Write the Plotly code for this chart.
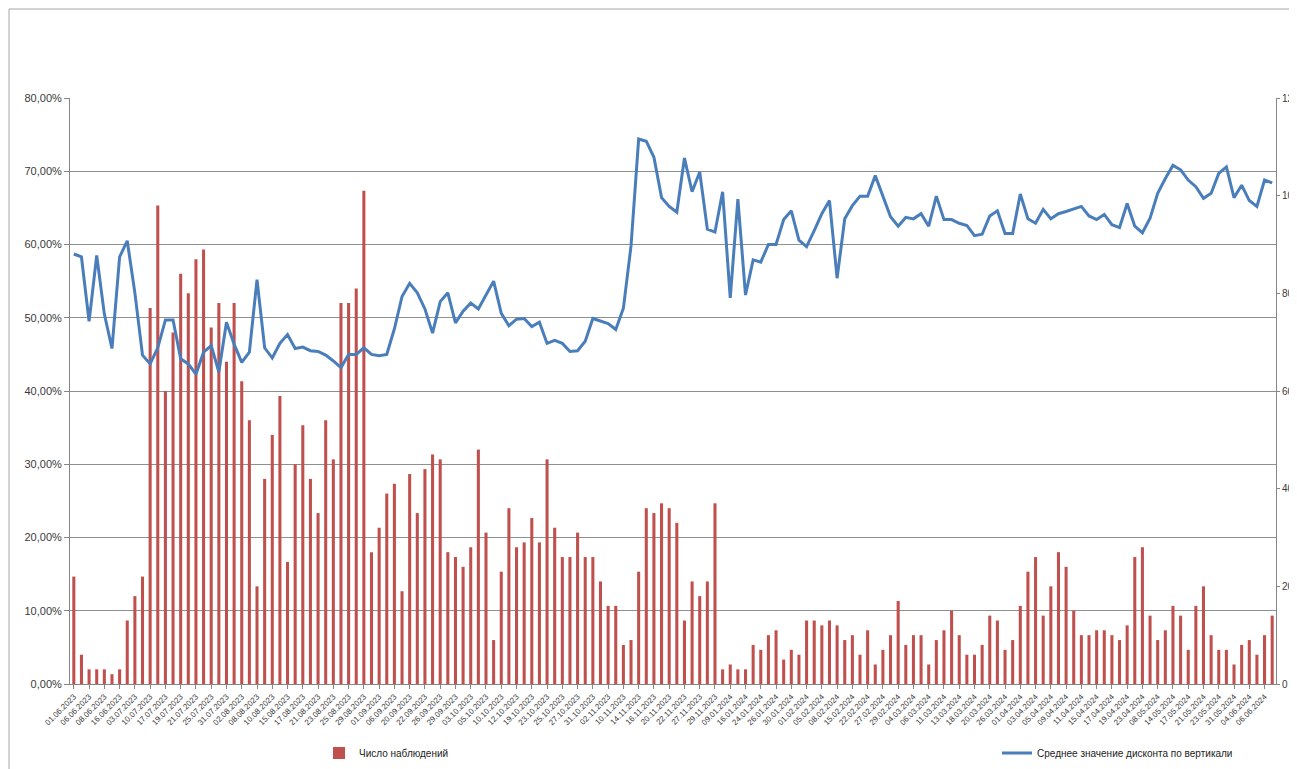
import plotly.graph_objects as go

dates = [
    "01.06.2023", "02.06.2023", "06.06.2023", "07.06.2023", "08.06.2023", "14.06.2023",
    "16.06.2023", "23.06.2023", "03.07.2023", "05.07.2023", "10.07.2023", "12.07.2023",
    "17.07.2023", "18.07.2023", "19.07.2023", "20.07.2023", "21.07.2023", "24.07.2023",
    "25.07.2023", "27.07.2023", "31.07.2023", "01.08.2023", "02.08.2023", "04.08.2023",
    "08.08.2023", "09.08.2023", "10.08.2023", "14.08.2023", "15.08.2023", "16.08.2023",
    "17.08.2023", "18.08.2023", "21.08.2023", "22.08.2023", "23.08.2023", "24.08.2023",
    "25.08.2023", "28.08.2023", "29.08.2023", "30.08.2023", "01.09.2023", "05.09.2023",
    "06.09.2023", "13.09.2023", "20.09.2023", "21.09.2023", "22.09.2023", "25.09.2023",
    "26.09.2023", "28.09.2023", "29.09.2023", "02.10.2023", "03.10.2023", "04.10.2023",
    "05.10.2023", "09.10.2023", "10.10.2023", "11.10.2023", "12.10.2023", "17.10.2023",
    "19.10.2023", "20.10.2023", "23.10.2023", "24.10.2023", "25.10.2023", "26.10.2023",
    "27.10.2023", "30.10.2023", "31.10.2023", "01.11.2023", "02.11.2023", "07.11.2023",
    "10.11.2023", "13.11.2023", "14.11.2023", "15.11.2023", "16.11.2023", "17.11.2023",
    "20.11.2023", "21.11.2023", "22.11.2023", "24.11.2023", "27.11.2023", "28.11.2023",
    "29.11.2023", "12.12.2023", "09.01.2024", "11.01.2024", "16.01.2024", "19.01.2024",
    "24.01.2024", "25.01.2024", "26.01.2024", "29.01.2024", "30.01.2024", "31.01.2024",
    "01.02.2024", "02.02.2024", "05.02.2024", "06.02.2024", "08.02.2024", "12.02.2024",
    "15.02.2024", "19.02.2024", "22.02.2024", "26.02.2024", "27.02.2024", "28.02.2024",
    "29.02.2024", "01.03.2024", "04.03.2024", "05.03.2024", "06.03.2024", "07.03.2024",
    "11.03.2024", "12.03.2024", "13.03.2024", "15.03.2024", "18.03.2024", "19.03.2024",
    "20.03.2024", "22.03.2024", "26.03.2024", "28.03.2024", "01.04.2024", "02.04.2024",
    "03.04.2024", "04.04.2024", "05.04.2024", "08.04.2024", "09.04.2024", "10.04.2024",
    "11.04.2024", "12.04.2024", "15.04.2024", "16.04.2024", "17.04.2024", "18.04.2024",
    "19.04.2024", "22.04.2024", "23.04.2024", "02.05.2024", "08.05.2024", "13.05.2024",
    "14.05.2024", "16.05.2024", "17.05.2024", "20.05.2024", "21.05.2024", "22.05.2024",
    "23.05.2024", "28.05.2024", "31.05.2024", "03.06.2024", "04.06.2024", "05.06.2024",
    "06.06.2024", "07.06.2024",
]

# Число наблюдений (right axis)
observations = [
    22, 6, 3, 3, 3, 2, 3, 13, 18, 22, 77, 98, 60, 72, 84, 80, 87, 89, 73, 78, 66, 78, 62, 54,
    20, 42, 51, 59, 25, 45, 53, 42,
    35, 54, 46, 78, 78, 81, 101, 27, 32, 39, 41, 19, 43, 35, 44, 47, 46, 27, 26, 24, 28, 48,
    31, 9, 23, 36, 28, 29, 34, 29, 46,
    32, 26, 26, 31, 26, 26, 21, 16, 16, 8, 9, 23, 36, 35, 37, 36, 33, 13, 21, 18, 21, 37,
    3, 4, 3, 3, 8, 7, 10, 11, 5,
    7, 6, 13, 13, 12, 13, 12, 9, 10, 6, 11, 4, 7, 10, 17, 8, 10, 10, 4, 9, 11, 15, 10, 6,
    6, 8, 14, 13, 7, 9, 16, 23,
    26, 14, 20, 27, 24, 15, 10, 10, 11, 11, 10, 9, 12, 26, 28, 14, 9, 11, 16, 14, 7, 16,
    20, 10, 7, 7, 4, 8, 9, 6, 10, 14,
]

# Среднее значение дисконта по вертикали, % (left axis)
discount_pct = [
    58.7, 58.3, 49.5, 58.5, 50.5, 45.8, 58.3, 60.5, 53.4, 44.9, 43.7, 45.9, 49.7, 49.7, 44.4,
    43.7, 42.3, 45.3, 46.2, 42.6, 49.4, 46.4, 43.9, 45.3, 55.2, 45.9, 44.5, 46.5, 47.7, 45.8,
    46.0, 45.5,
    45.4, 44.9, 44.1, 43.2, 45.0, 45.0, 45.9, 45.0, 44.8, 45.0, 48.5, 52.9, 54.7, 53.4, 51.2,
    47.9, 52.2, 53.4, 49.3, 50.9, 52.0, 51.2, 53.1, 55.0, 50.6, 48.9, 49.8, 49.9, 48.8, 49.4,
    46.5,
    46.9, 46.5, 45.4, 45.5, 46.8, 49.9, 49.6, 49.2, 48.4, 51.3, 59.8, 74.4, 74.1, 71.9, 66.4,
    65.2, 64.4, 71.8, 67.2, 69.9, 62.1, 61.7, 67.2, 52.7, 66.2, 53.1, 57.9, 57.6, 60.0, 60.0,
    63.4,
    64.6, 60.6, 59.7, 61.9, 64.2, 66.0, 55.4, 63.5, 65.3, 66.6, 66.6, 69.4, 66.5, 63.8, 62.5,
    63.7, 63.5, 64.2, 62.5, 66.6, 63.4, 63.4, 62.9, 62.6, 61.2, 61.4, 63.9, 64.6, 61.5, 61.5,
    66.9, 63.5,
    62.9, 64.8, 63.5, 64.2, 64.5, 64.8, 65.2, 63.9, 63.4, 64.1, 62.7, 62.3, 65.6, 62.5, 61.6,
    63.6, 67.0, 69.0, 70.8, 70.2, 68.8, 67.9, 66.3, 67.0, 69.7, 70.6, 66.4, 68.1, 66.0, 65.2,
    68.8, 68.4,
]

tick_labels = dates[::2]

W, H = 1297, 769
OFF = 8  # page body margin offset
L, R, T, B = 70 - OFF, 29, 98 - OFF, 93
pw, ph = W - L - R, H - T - B

FONT = "Liberation Sans"
TXT = "#3a3a3a"
GRID = "#8f8f8f"
AXIS = "#868686"

def px_x(sx):
    return (sx - OFF - L) / pw

def px_y(sy):
    return (T + ph - (sy - OFF)) / ph

fig = go.Figure()
fig.add_trace(go.Bar(
    x=dates, y=observations, name="Число наблюдений",
    marker=dict(color="#C0504D", line=dict(width=0)),
    yaxis="y", legend="legend", showlegend=True,
))
fig.add_trace(go.Scatter(
    x=dates, y=[v / 100 for v in discount_pct], name="Среднее значение дисконта по вертикали",
    mode="lines", line=dict(color="#4A7EBB", width=3),
    yaxis="y2", legend="legend2", showlegend=True,
))

fig.update_layout(
    width=W, height=H,
    margin=dict(l=L, r=R, t=T, b=B, autoexpand=False),
    paper_bgcolor="white", plot_bgcolor="white",
    separators=", ",
    bargap=0.6,
    showlegend=True,
    font=dict(family=FONT, size=11, color=TXT),
    xaxis=dict(
        type="category", tickmode="array", tickvals=tick_labels, ticktext=tick_labels,
        tickangle=-45, tickfont=dict(size=8, color=TXT),
        showline=True, linecolor=AXIS, linewidth=1,
        ticks="outside", ticklen=4, tickcolor=AXIS,
        showgrid=False, automargin=False,
        range=[-0.5, len(dates) - 0.5],
    ),
    yaxis=dict(
        side="right", range=[0, 120], dtick=20, tick0=0,
        showgrid=False, zeroline=False,
        showline=True, linecolor=AXIS, linewidth=1,
        ticks="outside", ticklen=3, tickcolor=AXIS,
        tickfont=dict(size=10, color=TXT), automargin=False,
    ),
    yaxis2=dict(
        overlaying="y", side="left", anchor="x", range=[0, 0.8], dtick=0.1, tick0=0,
        tickformat=".2%",
        showgrid=True, gridcolor=GRID, gridwidth=1, zeroline=False,
        showline=True, linecolor=AXIS, linewidth=1,
        ticks="outside", ticklen=5, tickcolor=AXIS,
        tickfont=dict(size=11, color=TXT), automargin=False,
    ),
    legend=dict(
        orientation="h", x=px_x(319), xanchor="left",
        y=px_y(753), yanchor="middle",
        font=dict(size=10, color="#222"), bgcolor="rgba(0,0,0,0)",
    ),
    legend2=dict(
        orientation="h", x=px_x(997), xanchor="left",
        y=px_y(753), yanchor="middle",
        font=dict(size=10, color="#222"), bgcolor="rgba(0,0,0,0)",
    ),
    shapes=[dict(
        type="rect", xref="paper", yref="paper",
        x0=px_x(9), x1=px_x(W + 20),
        y0=px_y(H + 20), y1=px_y(9),
        line=dict(color="#a6a6a6", width=1), fillcolor="rgba(0,0,0,0)", layer="below",
    )],
)

fig.write_html("out.html")
